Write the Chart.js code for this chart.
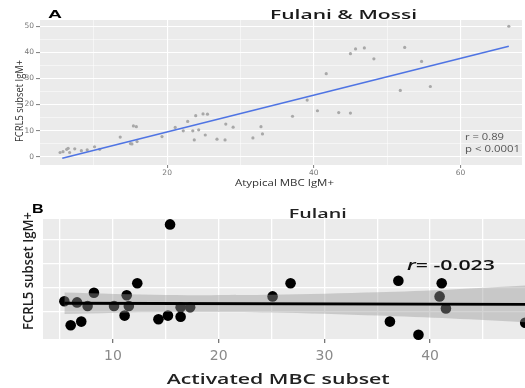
<!DOCTYPE html>
<html><head><meta charset="utf-8">
<script src="https://cdn.jsdelivr.net/npm/chart.js@4.4.0/dist/chart.umd.min.js"></script>
<style>
html,body{margin:0;padding:0;background:#fff;}
#wrap{position:relative;width:525px;height:388px;overflow:hidden;}
canvas{position:absolute;left:0;}
#ca{top:0;} #cb{top:196px;}
</style></head><body>
<div id="wrap"><canvas id="ca" width="525" height="196"></canvas><canvas id="cb" width="525" height="192"></canvas></div>
<script>
// ---------- Panel A: Fulani & Mossi ----------
const atypicalMBC = [5.4,5.8,6.3,6.5,6.7,7.4,8.3,9.1,10.1,10.8,13.6,15.0,15.2,15.4,15.8,15.9,19.3,21.1,22.2,22.8,23.5,23.7,23.9,24.3,24.9,25.2,25.5,26.8,27.9,28.0,29.0,31.7,32.8,33.0,37.1,39.1,40.5,41.7,43.4,45.0,45.0,45.7,46.9,48.2,51.8,52.4,54.7,55.9,66.6];
const fcrl5A = [1.6,1.9,2.8,3.2,1.6,3.0,2.3,2.6,3.8,2.8,7.5,5.0,4.9,11.8,11.5,5.8,7.7,11.2,9.9,13.5,9.9,6.4,15.7,10.3,16.4,8.3,16.3,6.7,6.4,12.5,11.3,7.2,11.5,8.7,15.5,21.7,17.6,31.8,16.9,16.7,39.5,41.3,41.7,37.5,25.4,41.9,36.5,26.9,50.0];
const fitAX = [5.7, 66.6];
const fitAY = [-0.6, 42.3];
const ticksAX = [10,20,30,40,50,60];
const ticksAY = [0,5,10,15,20,25,30,35,40,45,50];

// ---------- Panel B: Fulani ----------
const activatedMBC = [5.4,6.0,6.6,7.0,7.6,8.2,10.1,11.1,11.3,11.5,12.3,14.3,15.2,15.4,16.4,16.4,17.3,25.1,26.8,36.2,37.0,38.9,40.9,41.1,41.5,49.0];
const fcrl5B = [2.9,0.9,2.8,1.2,2.5,3.6,2.5,1.7,3.4,2.5,4.4,1.4,1.7,9.3,1.6,2.4,2.4,3.3,4.4,1.2,4.6,0.1,3.3,4.4,2.3,1.1];
const fitBX = [5.4, 49.0];
const fitBY = [2.73, 2.64];
const bandX = [5.4, 15, 25, 35, 42, 49];
const bandUpper = [3.63, 3.42, 3.43, 3.64, 3.88, 4.2];
const bandLower = [1.83, 2.0, 1.96, 1.70, 1.45, 1.15];
const ticksBX = [5,10,15,20,25,30,35,40,45];
const ticksBY = [2,4,6,8];

const zip = (xs, ys) => xs.map((x, i) => ({x, y: ys[i]}));

Chart.defaults.font.family = 'DejaVu Sans';
Chart.defaults.animation = false;

const TXT = "'Open Sans'";
function drawText(ctx, s, o) {
  ctx.save();
  ctx.font = `${o.style||'normal'} ${o.weight||'normal'} ${o.size}px ${o.family||TXT}`;
  ctx.fillStyle = o.color || '#000';
  ctx.textBaseline = 'alphabetic';
  ctx.textAlign = 'left';
  const m = ctx.measureText(s).width;
  const sx = o.w ? o.w / m : 1;
  ctx.translate(o.x, o.y);
  if (o.rot) ctx.rotate(o.rot);
  ctx.scale(sx, o.sy || 1);
  ctx.fillText(s, o.center ? -m/2 : 0, 0);
  ctx.restore();
}

const panelBg = {
  id: 'panelBg',
  beforeDraw(chart) {
    const {ctx, chartArea: a} = chart;
    ctx.save();
    ctx.fillStyle = '#EBEBEB';
    ctx.fillRect(a.left, a.top, a.right - a.left, a.bottom - a.top);
    ctx.restore();
  }
};

const textA = {
  id: 'textA',
  afterDraw(chart) {
    const ctx = chart.ctx;
    drawText(ctx, 'A', {x: 48, y: 17.5, size: 11, weight: 'bold', family: 'Liberation Sans', w: 14, color: '#000'});
    drawText(ctx, 'Fulani & Mossi', {x: 270, y: 19, size: 12.5, weight: '600', w: 147, color: '#1a1a1a'});
    drawText(ctx, 'Atypical MBC IgM+', {x: 235, y: 185.5, size: 9, w: 99, color: '#333'});
    drawText(ctx, 'FCRL5 subset IgM+', {x: 23, y: 101, size: 11, w: 82, rot: -Math.PI/2, center: true, color: '#333'});
    drawText(ctx, 'r = 0.89', {x: 465, y: 139.5, size: 9, w: 39, color: '#555'});
    drawText(ctx, 'p < 0.0001', {x: 465, y: 151.5, size: 9, w: 55, color: '#555'});
  }
};

const textB = {
  id: 'textB',
  afterDraw(chart) {
    const ctx = chart.ctx;
    drawText(ctx, 'B', {x: 32, y: 17, size: 12.5, weight: 'bold', family: 'Liberation Sans', w: 11.6, color: '#000'});
    drawText(ctx, 'Fulani', {x: 288.7, y: 22.3, size: 13, weight: '600', w: 58, color: '#222'});
    drawText(ctx, 'FCRL5 subset IgM+', {x: 33, y: 75, size: 14, weight: '600', w: 118, rot: -Math.PI/2, center: true, color: '#222'});
    drawText(ctx, 'Activated MBC subset', {x: 166.7, y: 187.5, size: 14, weight: '600', w: 223, color: '#222'});
    // r= -0.023 with italic r
    ctx.save();
    const fi = `italic 600 13.5px ${TXT}`, fn = `normal 600 13.5px ${TXT}`;
    ctx.font = fi; const w1 = ctx.measureText('r').width;
    ctx.font = fn; const w2 = ctx.measureText('= -0.023').width;
    const sx = 88 / (w1 + w2);
    ctx.translate(407, 74);
    ctx.scale(sx, 1);
    ctx.fillStyle = '#111';
    ctx.textBaseline = 'alphabetic';
    ctx.font = fi; ctx.fillText('r', 0, 0);
    ctx.font = fn; ctx.fillText('= -0.023', w1, 0);
    ctx.restore();
  }
};

// ---------- Chart A ----------
new Chart(document.getElementById('ca'), {
  type: 'scatter',
  data: {
    datasets: [
      {type: 'line', data: zip(fitAX, fitAY), borderColor: '#4f74e3', borderWidth: 1.6, pointRadius: 0, showLine: true, fill: false},
      {data: zip(atypicalMBC, fcrl5A), backgroundColor: '#a8a8a8', borderWidth: 0, pointRadius: 1.6}
    ]
  },
  options: {
    responsive: false,
    layout: {autoPadding: false, padding: {left: 0, top: 20, right: 3, bottom: 0}},
    plugins: {legend: {display: false}, tooltip: {enabled: false}},
    scales: {
      x: {
        type: 'linear', min: 2.66, max: 68.4,
        afterBuildTicks: s => { s.ticks = ticksAX.map(v => ({value: v})); },
        afterFit: s => { s.height = 31; },
        border: {display: false},
        grid: {
          color: '#ffffff',
          lineWidth: c => (c.tick && c.tick.value % 20 === 0) ? 1.1 : 0.5,
          tickColor: c => (c.tick && c.tick.value % 20 === 0) ? '#888' : 'rgba(0,0,0,0)',
          tickLength: 3
        },
        ticks: {autoSkip: false, maxRotation: 0, padding: 1, color: '#777', font: {size: 7.5},
          callback: v => (v % 20 === 0 ? String(v) : '')}
      },
      y: {
        type: 'linear', min: -3.2, max: 52.4,
        afterBuildTicks: s => { s.ticks = ticksAY.map(v => ({value: v})); },
        afterFit: s => { s.width = 40; },
        border: {display: false},
        grid: {
          color: '#ffffff',
          lineWidth: c => (c.tick && c.tick.value % 10 === 0) ? 1.1 : 0.5,
          tickColor: c => (c.tick && c.tick.value % 10 === 0) ? '#888' : 'rgba(0,0,0,0)',
          tickLength: 4
        },
        ticks: {autoSkip: false, padding: 2, color: '#777', font: {size: 7.5},
          callback: v => (v % 10 === 0 ? String(v) : '')}
      }
    }
  },
  plugins: [panelBg, textA]
});

// ---------- Chart B ----------
new Chart(document.getElementById('cb'), {
  type: 'scatter',
  data: {
    datasets: [
      {type: 'line', data: zip(fitBX, fitBY), borderColor: '#000', borderWidth: 2.8, pointRadius: 0, showLine: true, fill: false},
      {type: 'line', data: zip(bandX, bandUpper), borderWidth: 0, borderColor: 'rgba(0,0,0,0)', pointRadius: 0, showLine: true, tension: 0.3,
        fill: '+1', backgroundColor: 'rgba(153,153,153,0.42)'},
      {type: 'line', data: zip(bandX, bandLower), borderWidth: 0, borderColor: 'rgba(0,0,0,0)', pointRadius: 0, showLine: true, tension: 0.3, fill: false},
      {data: zip(activatedMBC, fcrl5B), backgroundColor: '#000', borderWidth: 0, pointRadius: 5.3, clip: false}
    ]
  },
  options: {
    responsive: false,
    layout: {autoPadding: false, padding: {left: 0, top: 23, right: 0, bottom: 0}},
    plugins: {legend: {display: false}, tooltip: {enabled: false}},
    scales: {
      x: {
        type: 'linear', min: 3.38, max: 48.98,
        afterBuildTicks: s => { s.ticks = ticksBX.map(v => ({value: v})); },
        afterFit: s => { s.height = 49; },
        border: {display: false},
        grid: {
          color: '#ffffff', lineWidth: 1.3,
          tickColor: c => (c.tick && c.tick.value % 10 === 0) ? '#777' : 'rgba(0,0,0,0)',
          tickLength: 4
        },
        ticks: {autoSkip: false, maxRotation: 0, padding: 5, color: '#8a8a8a', font: {size: 14},
          callback: v => (v % 10 === 0 ? String(v) : '')}
      },
      y: {
        type: 'linear', min: -0.25, max: 9.75,
        afterBuildTicks: s => { s.ticks = ticksBY.map(v => ({value: v})); },
        afterFit: s => { s.width = 43; },
        border: {display: false},
        grid: {color: '#ffffff', lineWidth: 1.3, drawTicks: false},
        ticks: {display: false}
      }
    }
  },
  plugins: [panelBg, textB]
});
</script>
</body></html>
